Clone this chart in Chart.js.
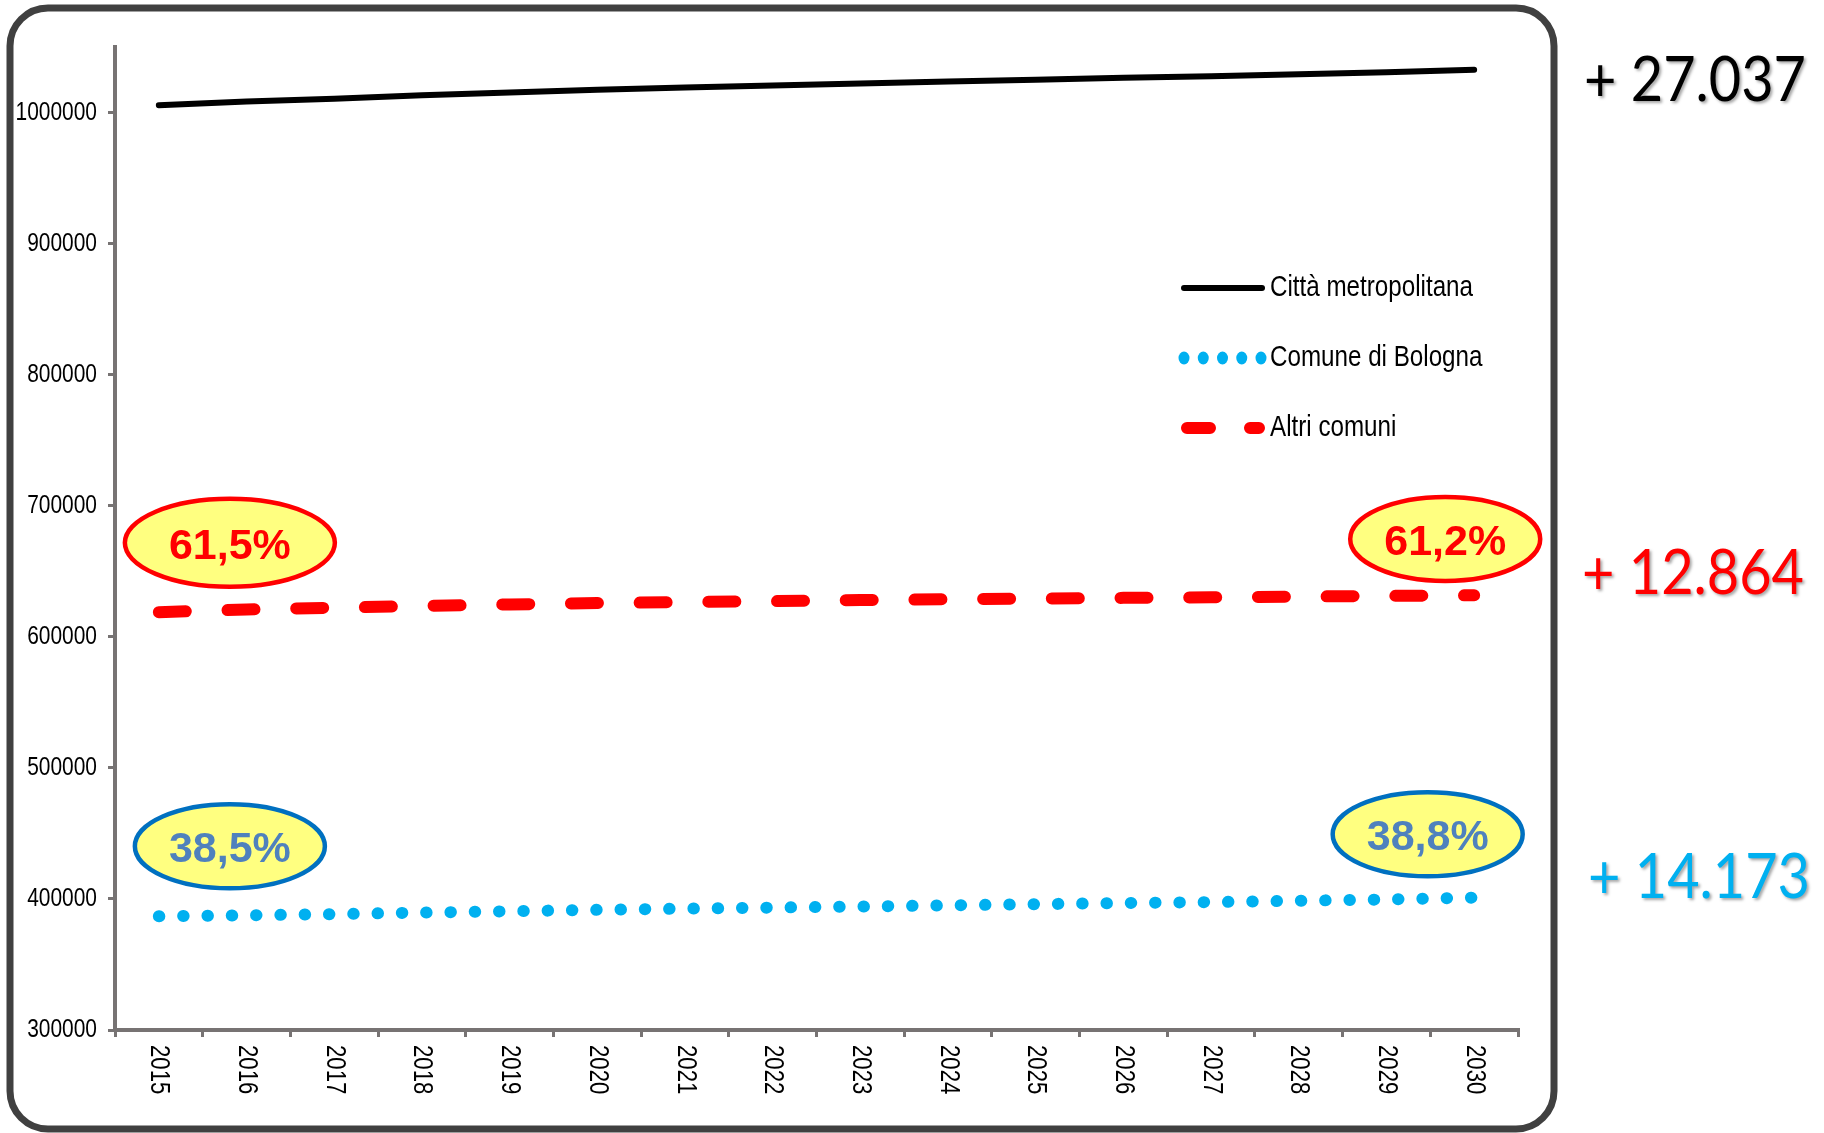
<!DOCTYPE html>
<html lang="it">
<head>
<meta charset="utf-8">
<title>Popolazione 2015-2030</title>
<script src="https://cdn.jsdelivr.net/npm/chart.js@4.4.1/dist/chart.umd.min.js"></script>
<style>
  html, body { margin: 0; padding: 0; background: #ffffff; }
  #wrap { position: relative; width: 1824px; height: 1133px; }
</style>
</head>
<body>
<div id="wrap"><canvas id="grafico"></canvas></div>
<script>
// Anni di proiezione
const anni = ['2015','2016','2017','2018','2019','2020','2021','2022',
              '2023','2024','2025','2026','2027','2028','2029','2030'];

// Popolazione residente (proiezione)
const cittaMetropolitana = [1005600, 1008400, 1010600, 1013200, 1015300, 1017400, 1019100, 1020600,
                            1022200, 1023700, 1025100, 1026600, 1027700, 1029300, 1030800, 1032637];
const comuneBologna      = [386800, 387500, 388400, 389600, 390600, 391700, 392600, 393400,
                            394200, 395100, 396000, 396900, 397600, 398600, 399600, 400973];
const altriComuni        = [618800, 620900, 622200, 623600, 624700, 625700, 626500, 627200,
                            628000, 628600, 629100, 629700, 630100, 630700, 631200, 631664];

// Valori dell'asse verticale
const yTickValues = [300000, 400000, 500000, 600000, 700000, 800000, 900000, 1000000];
const yMin = 300000;
const yMax = 1050000;

const SANS = "'Liberation Sans', Arial, sans-serif";
const NARROW_SCALE = 0.82;   // resa "narrow" del carattere
const AXIS_GREY = '#777373';

const COL_NERO = '#000000';
const COL_ROSSO = '#FF0000';
const COL_AZZURRO = '#00B0F0';

// Formattazione italiana
function fmtMigliaia(n) {
  return String(Math.round(n)).replace(/\B(?=(\d{3})+(?!\d))/g, '.');
}
function fmtQuota(part, tot) {
  return (part / tot * 100).toFixed(1).replace('.', ',') + '%';
}

// Testo compresso orizzontalmente (carattere stretto)
function testoStretto(ctx, txt, x, y, size, align, baseline, rot) {
  ctx.save();
  ctx.translate(x, y);
  if (rot) ctx.rotate(rot);
  ctx.scale(NARROW_SCALE, 1);
  ctx.font = size + 'px ' + SANS;
  ctx.fillStyle = '#000000';
  ctx.textAlign = align;
  ctx.textBaseline = baseline;
  ctx.fillText(txt, 0, 0);
  ctx.restore();
}

// Cornice arrotondata attorno al grafico
const cornice = {
  id: 'cornice',
  beforeDraw(chart) {
    const ctx = chart.ctx;
    ctx.save();
    ctx.fillStyle = '#ffffff';
    ctx.fillRect(0, 0, chart.width, chart.height);
    ctx.strokeStyle = '#404040';
    ctx.lineWidth = 7;
    ctx.beginPath();
    ctx.roundRect(10, 8, 1544, 1121, 38);
    ctx.stroke();
    ctx.restore();
  }
};

// Etichette degli assi
const etichetteAssi = {
  id: 'etichetteAssi',
  afterDraw(chart) {
    const ctx = chart.ctx;
    const xs = chart.scales.x, ys = chart.scales.y;
    anni.forEach((a, i) => {
      testoStretto(ctx, a, xs.getPixelForValue(i), chart.chartArea.bottom + 15, 27, 'left', 'middle', Math.PI / 2);
    });
    yTickValues.forEach(v => {
      testoStretto(ctx, String(v), ys.right - 18, ys.getPixelForValue(v), 25.5, 'right', 'middle', 0);
    });
  }
};

// Legenda dentro l'area del grafico
const legenda = {
  id: 'legenda',
  afterDraw(chart) {
    const ctx = chart.ctx;
    const x0 = 1187, x1 = 1259, xt = 1270;
    const righe = [
      { y: 288, testo: chart.data.datasets[0].label, tipo: 'continua' },
      { y: 358, testo: chart.data.datasets[1].label, tipo: 'punti' },
      { y: 428, testo: chart.data.datasets[2].label, tipo: 'tratti' }
    ];
    righe.forEach(r => {
      ctx.save();
      ctx.lineCap = 'round';
      if (r.tipo === 'continua') {
        ctx.strokeStyle = COL_NERO; ctx.lineWidth = 6;
        ctx.beginPath(); ctx.moveTo(x0 - 3, r.y); ctx.lineTo(x1 + 3, r.y); ctx.stroke();
      } else if (r.tipo === 'punti') {
        ctx.fillStyle = COL_AZZURRO;
        for (let k = 0; k < 5; k++) {
          ctx.beginPath(); ctx.ellipse(1184 + k * 19.25, r.y, 5.5, 6.5, 0, 0, Math.PI * 2); ctx.fill();
        }
      } else {
        ctx.strokeStyle = COL_ROSSO; ctx.lineWidth = 12;
        ctx.setLineDash([23, 40]);
        ctx.beginPath(); ctx.moveTo(x0, r.y); ctx.lineTo(x1, r.y); ctx.stroke();
      }
      ctx.restore();
      testoStretto(ctx, r.testo, xt, r.y, 29.5, 'left', 'middle', 0);
    });
  }
};

// Quote percentuali nei riquadri ovali e variazioni 2015-2030
const annotazioni = {
  id: 'annotazioni',
  afterDraw(chart) {
    const ctx = chart.ctx;
    const xs = chart.scales.x, ys = chart.scales.y;
    const px0 = xs.getPixelForValue(0), dx = xs.getPixelForValue(1) - px0;
    const ultimo = anni.length - 1;

    const ovali = [
      { i: 0.81,  v: 671700, rx: 105, ry: 44, bordo: COL_ROSSO, testo: COL_ROSSO, lab: fmtQuota(altriComuni[0], cittaMetropolitana[0]) },
      { i: 14.67, v: 674700, rx: 95,  ry: 42, bordo: COL_ROSSO, testo: COL_ROSSO, lab: fmtQuota(altriComuni[ultimo], cittaMetropolitana[ultimo]) },
      { i: 0.81,  v: 440200, rx: 95,  ry: 42, bordo: '#0070C0', testo: '#4F81BD', lab: fmtQuota(comuneBologna[0], cittaMetropolitana[0]) },
      { i: 14.47, v: 449350, rx: 95,  ry: 42, bordo: '#0070C0', testo: '#4F81BD', lab: fmtQuota(comuneBologna[ultimo], cittaMetropolitana[ultimo]) }
    ];
    ctx.save();
    ovali.forEach(o => {
      const cx = px0 + dx * o.i, cy = ys.getPixelForValue(o.v);
      ctx.beginPath();
      ctx.ellipse(cx, cy, o.rx, o.ry, 0, 0, Math.PI * 2);
      ctx.fillStyle = '#FFFF80';
      ctx.fill();
      ctx.lineWidth = 4.5;
      ctx.strokeStyle = o.bordo;
      ctx.stroke();
      ctx.font = 'bold 43px ' + SANS;
      ctx.fillStyle = o.testo;
      ctx.textAlign = 'center';
      ctx.textBaseline = 'alphabetic';
      ctx.fillText(o.lab, cx, cy + 16);
    });
    ctx.restore();

    // Variazioni assolute a destra del grafico
    const variazioni = [
      { serie: cittaMetropolitana, col: COL_NERO,    x: 1584, y: 79 },
      { serie: altriComuni,        col: COL_ROSSO,   x: 1582, y: 572 },
      { serie: comuneBologna,      col: COL_AZZURRO, x: 1588, y: 876 }
    ];
    ctx.save();
    ctx.font = '62px Lato, Carlito, sans-serif';
    const sx = 222 / ctx.measureText('+ 27.037').width;
    variazioni.forEach(d => {
      const txt = '+ ' + fmtMigliaia(d.serie[ultimo] - d.serie[0]);
      ctx.save();
      ctx.translate(d.x, d.y + 22);
      ctx.scale(sx, 1);
      ctx.shadowColor = 'rgba(0,0,0,0.35)';
      ctx.shadowOffsetX = 2;
      ctx.shadowOffsetY = 2;
      ctx.shadowBlur = 3;
      ctx.fillStyle = d.col;
      ctx.textAlign = 'left';
      ctx.textBaseline = 'alphabetic';
      ctx.fillText(txt, 0, 0);
      ctx.restore();
    });
    ctx.restore();
  }
};

new Chart(document.getElementById('grafico'), {
  type: 'line',
  data: {
    labels: anni,
    datasets: [
      {
        label: 'Città metropolitana',
        data: cittaMetropolitana,
        borderColor: COL_NERO,
        borderWidth: 6,
        borderCapStyle: 'round',
        borderJoinStyle: 'round'
      },
      {
        label: 'Comune di Bologna',
        data: comuneBologna,
        borderColor: COL_AZZURRO,
        borderWidth: 12,
        borderDash: [0.5, 23.8],
        borderCapStyle: 'round',
        borderJoinStyle: 'round'
      },
      {
        label: 'Altri comuni',
        data: altriComuni,
        borderColor: COL_ROSSO,
        borderWidth: 12,
        borderDash: [27, 41.7],
        borderCapStyle: 'round',
        borderJoinStyle: 'round'
      }
    ]
  },
  options: {
    responsive: true,
    maintainAspectRatio: false,
    devicePixelRatio: 1,
    animation: false,
    layout: { padding: { left: 0, top: 47, right: 306, bottom: 0 } },
    elements: { point: { radius: 0, hoverRadius: 0 }, line: { tension: 0 } },
    plugins: {
      legend: { display: false },
      tooltip: { enabled: false }
    },
    scales: {
      x: {
        type: 'category',
        offset: true,
        grid: { offset: true, drawOnChartArea: false, drawTicks: true, tickLength: 7, color: AXIS_GREY, lineWidth: 3 },
        border: { display: true, color: AXIS_GREY, width: 4 },
        ticks: { display: false, autoSkip: false },
        afterFit(s) { s.height = 103; }
      },
      y: {
        min: yMin,
        max: yMax,
        grid: { drawOnChartArea: false, drawTicks: true, tickLength: 7, color: AXIS_GREY, lineWidth: 3 },
        border: { display: true, color: AXIS_GREY, width: 4 },
        ticks: { display: false },
        afterBuildTicks(s) { s.ticks = yTickValues.map(v => ({ value: v })); },
        afterFit(s) { s.width = 115; }
      }
    }
  },
  plugins: [cornice, etichetteAssi, legenda, annotazioni]
});
</script>
</body>
</html>
